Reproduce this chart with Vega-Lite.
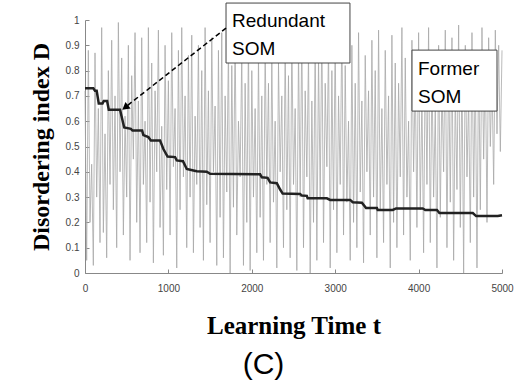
{
  "$schema": "https://vega.github.io/schema/vega-lite/v6.json",
  "width": 417,
  "height": 253,
  "autosize": {"type": "none"},
  "padding": {"left": 85, "top": 20, "right": 20, "bottom": 109},
  "background": "white",
  "config": {"view": {"stroke": null}},
  "title": {"text": "(C)", "orient": "bottom", "anchor": "middle", "font": "Liberation Sans", "fontSize": 30, "fontWeight": "normal", "color": "black", "dx": -30, "offset": 12},
  "datasets": {
    "former": [
      {"t":0,"D":0.72},{"t":20,"D":0.05},{"t":40,"D":0.88},{"t":60,"D":0.2},{"t":80,"D":0.43},{"t":100,"D":0.03},{"t":120,"D":0.87},{"t":140,"D":0.3},{"t":160,"D":0.65},{"t":180,"D":0.12},
      {"t":200,"D":0.97},{"t":220,"D":0.16},{"t":240,"D":0.55},{"t":260,"D":0.06},{"t":280,"D":0.8},{"t":300,"D":0.35},{"t":320,"D":0.92},{"t":340,"D":0.25},{"t":360,"D":0.7},{"t":380,"D":0.1},
      {"t":400,"D":0.99},{"t":420,"D":0.4},{"t":440,"D":0.85},{"t":460,"D":0.15},{"t":480,"D":0.62},{"t":500,"D":0.3},{"t":520,"D":0.9},{"t":540,"D":0.05},{"t":560,"D":0.78},{"t":580,"D":0.45},
      {"t":600,"D":0.95},{"t":620,"D":0.2},{"t":640,"D":0.68},{"t":660,"D":0.08},{"t":680,"D":0.93},{"t":700,"D":0.35},{"t":720,"D":0.6},{"t":740,"D":0.12},{"t":760,"D":0.97},{"t":780,"D":0.28},
      {"t":800,"D":0.83},{"t":820,"D":0.04},{"t":840,"D":0.72},{"t":860,"D":0.4},{"t":880,"D":0.96},{"t":900,"D":0.18},{"t":920,"D":0.58},{"t":940,"D":0.07},{"t":960,"D":0.9},{"t":980,"D":0.33},
      {"t":1000,"D":0.76},{"t":1020,"D":0.15},{"t":1040,"D":0.95},{"t":1060,"D":0.42},{"t":1080,"D":0.65},{"t":1100,"D":0.02},{"t":1120,"D":0.88},{"t":1140,"D":0.25},{"t":1160,"D":0.97},{"t":1180,"D":0.38},
      {"t":1200,"D":0.7},{"t":1220,"D":0.1},{"t":1240,"D":0.86},{"t":1260,"D":0.3},{"t":1280,"D":0.94},{"t":1300,"D":0.08},{"t":1320,"D":0.62},{"t":1340,"D":0.35},{"t":1360,"D":0.9},{"t":1380,"D":0.18},
      {"t":1400,"D":0.8},{"t":1420,"D":0.05},{"t":1440,"D":0.97},{"t":1460,"D":0.27},{"t":1480,"D":0.72},{"t":1500,"D":0.12},{"t":1520,"D":0.93},{"t":1540,"D":0.4},{"t":1560,"D":0.66},{"t":1580,"D":0.03},
      {"t":1600,"D":0.88},{"t":1620,"D":0.22},{"t":1640,"D":0.95},{"t":1660,"D":0.06},{"t":1680,"D":0.7},{"t":1700,"D":0.32},{"t":1720,"D":0.9},{"t":1740,"D":0.0},{"t":1760,"D":0.82},{"t":1780,"D":0.26},
      {"t":1800,"D":0.94},{"t":1820,"D":0.15},{"t":1840,"D":0.6},{"t":1860,"D":0.38},{"t":1880,"D":0.87},{"t":1900,"D":0.03},{"t":1920,"D":0.75},{"t":1940,"D":0.2},{"t":1960,"D":0.92},{"t":1980,"D":0.01},
      {"t":2000,"D":0.8},{"t":2020,"D":0.3},{"t":2040,"D":0.65},{"t":2060,"D":0.08},{"t":2080,"D":0.86},{"t":2100,"D":0.22},{"t":2120,"D":0.7},{"t":2140,"D":0.05},{"t":2160,"D":0.9},{"t":2180,"D":0.35},
      {"t":2200,"D":0.75},{"t":2220,"D":0.12},{"t":2240,"D":0.85},{"t":2260,"D":0.28},{"t":2280,"D":0.6},{"t":2300,"D":0.02},{"t":2320,"D":0.83},{"t":2340,"D":0.4},{"t":2360,"D":0.7},{"t":2380,"D":0.1},
      {"t":2400,"D":0.9},{"t":2420,"D":0.25},{"t":2440,"D":0.78},{"t":2460,"D":0.06},{"t":2480,"D":0.93},{"t":2500,"D":0.35},{"t":2520,"D":0.65},{"t":2540,"D":0.01},{"t":2560,"D":0.88},{"t":2580,"D":0.3},
      {"t":2600,"D":0.95},{"t":2620,"D":0.1},{"t":2640,"D":0.72},{"t":2660,"D":0.38},{"t":2680,"D":0.87},{"t":2700,"D":0.0},{"t":2720,"D":0.68},{"t":2740,"D":0.2},{"t":2760,"D":0.92},{"t":2780,"D":0.05},
      {"t":2800,"D":0.85},{"t":2820,"D":0.3},{"t":2840,"D":0.97},{"t":2860,"D":0.12},{"t":2880,"D":0.75},{"t":2900,"D":0.42},{"t":2920,"D":0.9},{"t":2940,"D":0.02},{"t":2960,"D":0.8},{"t":2980,"D":0.25},
      {"t":3000,"D":0.93},{"t":3020,"D":0.08},{"t":3040,"D":0.7},{"t":3060,"D":0.35},{"t":3080,"D":0.98},{"t":3100,"D":0.15},{"t":3120,"D":0.82},{"t":3140,"D":0.28},{"t":3160,"D":0.6},{"t":3180,"D":0.05},
      {"t":3200,"D":0.9},{"t":3220,"D":0.2},{"t":3240,"D":0.75},{"t":3260,"D":0.1},{"t":3280,"D":0.95},{"t":3300,"D":0.32},{"t":3320,"D":0.68},{"t":3340,"D":0.04},{"t":3360,"D":0.86},{"t":3380,"D":0.4},
      {"t":3400,"D":0.72},{"t":3420,"D":0.15},{"t":3440,"D":0.92},{"t":3460,"D":0.3},{"t":3480,"D":0.8},{"t":3500,"D":0.06},{"t":3520,"D":0.96},{"t":3540,"D":0.25},{"t":3560,"D":0.65},{"t":3580,"D":0.12},
      {"t":3600,"D":0.88},{"t":3620,"D":0.35},{"t":3640,"D":0.7},{"t":3660,"D":0.02},{"t":3680,"D":0.94},{"t":3700,"D":0.2},{"t":3720,"D":0.83},{"t":3740,"D":0.1},{"t":3760,"D":0.75},{"t":3780,"D":0.38},
      {"t":3800,"D":0.97},{"t":3820,"D":0.15},{"t":3840,"D":0.85},{"t":3860,"D":0.3},{"t":3880,"D":0.6},{"t":3900,"D":0.05},{"t":3920,"D":0.92},{"t":3940,"D":0.4},{"t":3960,"D":0.78},{"t":3980,"D":0.18},
      {"t":4000,"D":0.95},{"t":4020,"D":0.25},{"t":4040,"D":0.7},{"t":4060,"D":0.08},{"t":4080,"D":0.88},{"t":4100,"D":0.35},{"t":4120,"D":0.97},{"t":4140,"D":0.12},{"t":4160,"D":0.8},{"t":4180,"D":0.3},
      {"t":4200,"D":0.65},{"t":4220,"D":0.02},{"t":4240,"D":0.9},{"t":4260,"D":0.22},{"t":4280,"D":0.75},{"t":4300,"D":0.4},{"t":4320,"D":0.96},{"t":4340,"D":0.1},{"t":4360,"D":0.85},{"t":4380,"D":0.28},
      {"t":4400,"D":0.93},{"t":4420,"D":0.05},{"t":4440,"D":0.72},{"t":4460,"D":0.33},{"t":4480,"D":0.98},{"t":4500,"D":0.18},{"t":4520,"D":0.8},{"t":4540,"D":0.0},{"t":4560,"D":0.9},{"t":4580,"D":0.38},
      {"t":4600,"D":0.7},{"t":4620,"D":0.12},{"t":4640,"D":0.95},{"t":4660,"D":0.3},{"t":4680,"D":0.82},{"t":4700,"D":0.02},{"t":4720,"D":0.88},{"t":4740,"D":0.25},{"t":4760,"D":0.97},{"t":4780,"D":0.45},
      {"t":4800,"D":0.85},{"t":4820,"D":0.2},{"t":4840,"D":0.93},{"t":4860,"D":0.5},{"t":4880,"D":0.78},{"t":4900,"D":0.35},{"t":4920,"D":0.96},{"t":4940,"D":0.55},{"t":4960,"D":0.9},{"t":4980,"D":0.48},
      {"t":5000,"D":0.88}
    ],
    "redundant": [
      {"t":0,"D":0.73},{"t":100,"D":0.73},{"t":120,"D":0.72},{"t":140,"D":0.72},{"t":165,"D":0.67},{"t":210,"D":0.67},{"t":225,"D":0.68},{"t":265,"D":0.68},{"t":285,"D":0.645},{"t":420,"D":0.645},
      {"t":470,"D":0.575},{"t":550,"D":0.57},{"t":570,"D":0.563},{"t":685,"D":0.563},{"t":700,"D":0.545},{"t":760,"D":0.537},{"t":790,"D":0.524},{"t":900,"D":0.524},{"t":940,"D":0.49},{"t":990,"D":0.46},
      {"t":1080,"D":0.458},{"t":1100,"D":0.445},{"t":1175,"D":0.442},{"t":1220,"D":0.411},{"t":1300,"D":0.405},{"t":1340,"D":0.402},{"t":1460,"D":0.4},{"t":1500,"D":0.392},{"t":2100,"D":0.39},{"t":2120,"D":0.378},
      {"t":2190,"D":0.376},{"t":2220,"D":0.358},{"t":2300,"D":0.355},{"t":2340,"D":0.33},{"t":2370,"D":0.314},{"t":2580,"D":0.312},{"t":2600,"D":0.306},{"t":2660,"D":0.305},{"t":2670,"D":0.295},{"t":2900,"D":0.295},
      {"t":2940,"D":0.289},{"t":3180,"D":0.289},{"t":3210,"D":0.28},{"t":3320,"D":0.278},{"t":3370,"D":0.257},{"t":3500,"D":0.257},{"t":3510,"D":0.249},{"t":3690,"D":0.249},{"t":3730,"D":0.255},{"t":4050,"D":0.255},
      {"t":4080,"D":0.249},{"t":4220,"D":0.249},{"t":4250,"D":0.237},{"t":4650,"D":0.237},{"t":4690,"D":0.225},{"t":4950,"D":0.225},{"t":5000,"D":0.228}
    ],
    "boxes": [
      {"t":1691,"t2":3177,"D":1.067,"D2":0.83},
      {"t":3921,"t2":4940,"D":0.881,"D2":0.64}
    ],
    "labels": [
      {"t":1763,"D":0.973,"label":"Redundant\nSOM"},
      {"t":3993,"D":0.782,"label":"Former\nSOM"}
    ],
    "arrow": [
      {"t":1691,"D":0.968,"t2":470,"D2":0.652}
    ],
    "head": [
      {"t":493,"D":0.657}
    ]
  },
  "encoding": {
    "x": {"field": "t", "type": "quantitative", "scale": {"domain": [0, 5000], "nice": false},
      "axis": {"values": [0, 1000, 2000, 3000, 4000, 5000], "format": "d", "title": "Learning Time t",
        "titleFont": "Liberation Serif", "titleFontSize": 25, "titleFontWeight": "bold", "titleColor": "black", "titlePadding": 20,
        "labelFont": "Liberation Sans", "labelFontSize": 10, "labelColor": "#444444", "labelPadding": 14, "labelFlush": false,
        "domainColor": "#888888", "tickColor": "#888888", "tickSize": -4, "grid": false}},
    "y": {"field": "D", "type": "quantitative", "scale": {"domain": [0, 1], "nice": false},
      "axis": {"values": [0, 0.1, 0.2, 0.3, 0.4, 0.5, 0.6, 0.7, 0.8, 0.9, 1], "format": ".1~f", "title": "Disordering index D",
        "titleFont": "Liberation Serif", "titleFontSize": 24, "titleFontWeight": "bold", "titleColor": "black", "titlePadding": 12,
        "labelFont": "Liberation Sans", "labelFontSize": 10, "labelColor": "#444444", "labelPadding": 10,
        "domainColor": "#888888", "tickColor": "#888888", "tickSize": -4, "grid": false}}
  },
  "layer": [
    {
      "data": {"name": "former"},
      "mark": {"type": "line", "color": "#a8a8a8", "strokeWidth": 0.8}
    },
    {
      "data": {"name": "redundant"},
      "mark": {"type": "line", "color": "#222222", "strokeWidth": 2.5}
    },
    {
      "data": {"name": "boxes"},
      "mark": {"type": "rect", "fill": "white", "stroke": "#444444", "strokeWidth": 1, "clip": false},
      "encoding": {
        "x2": {"field": "t2"},
        "y2": {"field": "D2"}
      }
    },
    {
      "data": {"name": "labels"},
      "mark": {"type": "text", "align": "left", "baseline": "alphabetic", "font": "Liberation Sans", "fontSize": 19, "color": "black", "lineBreak": "\n", "lineHeight": 28, "clip": false},
      "encoding": {
        "text": {"field": "label"}
      }
    },
    {
      "data": {"name": "arrow"},
      "mark": {"type": "rule", "color": "black", "strokeWidth": 1.5, "strokeDash": [5, 3], "clip": false},
      "encoding": {
        "x2": {"field": "t2"},
        "y2": {"field": "D2"}
      }
    },
    {
      "data": {"name": "head"},
      "mark": {"type": "point", "shape": "triangle", "filled": true, "color": "black", "size": 70, "angle": 232, "opacity": 1}
    }
  ]
}
